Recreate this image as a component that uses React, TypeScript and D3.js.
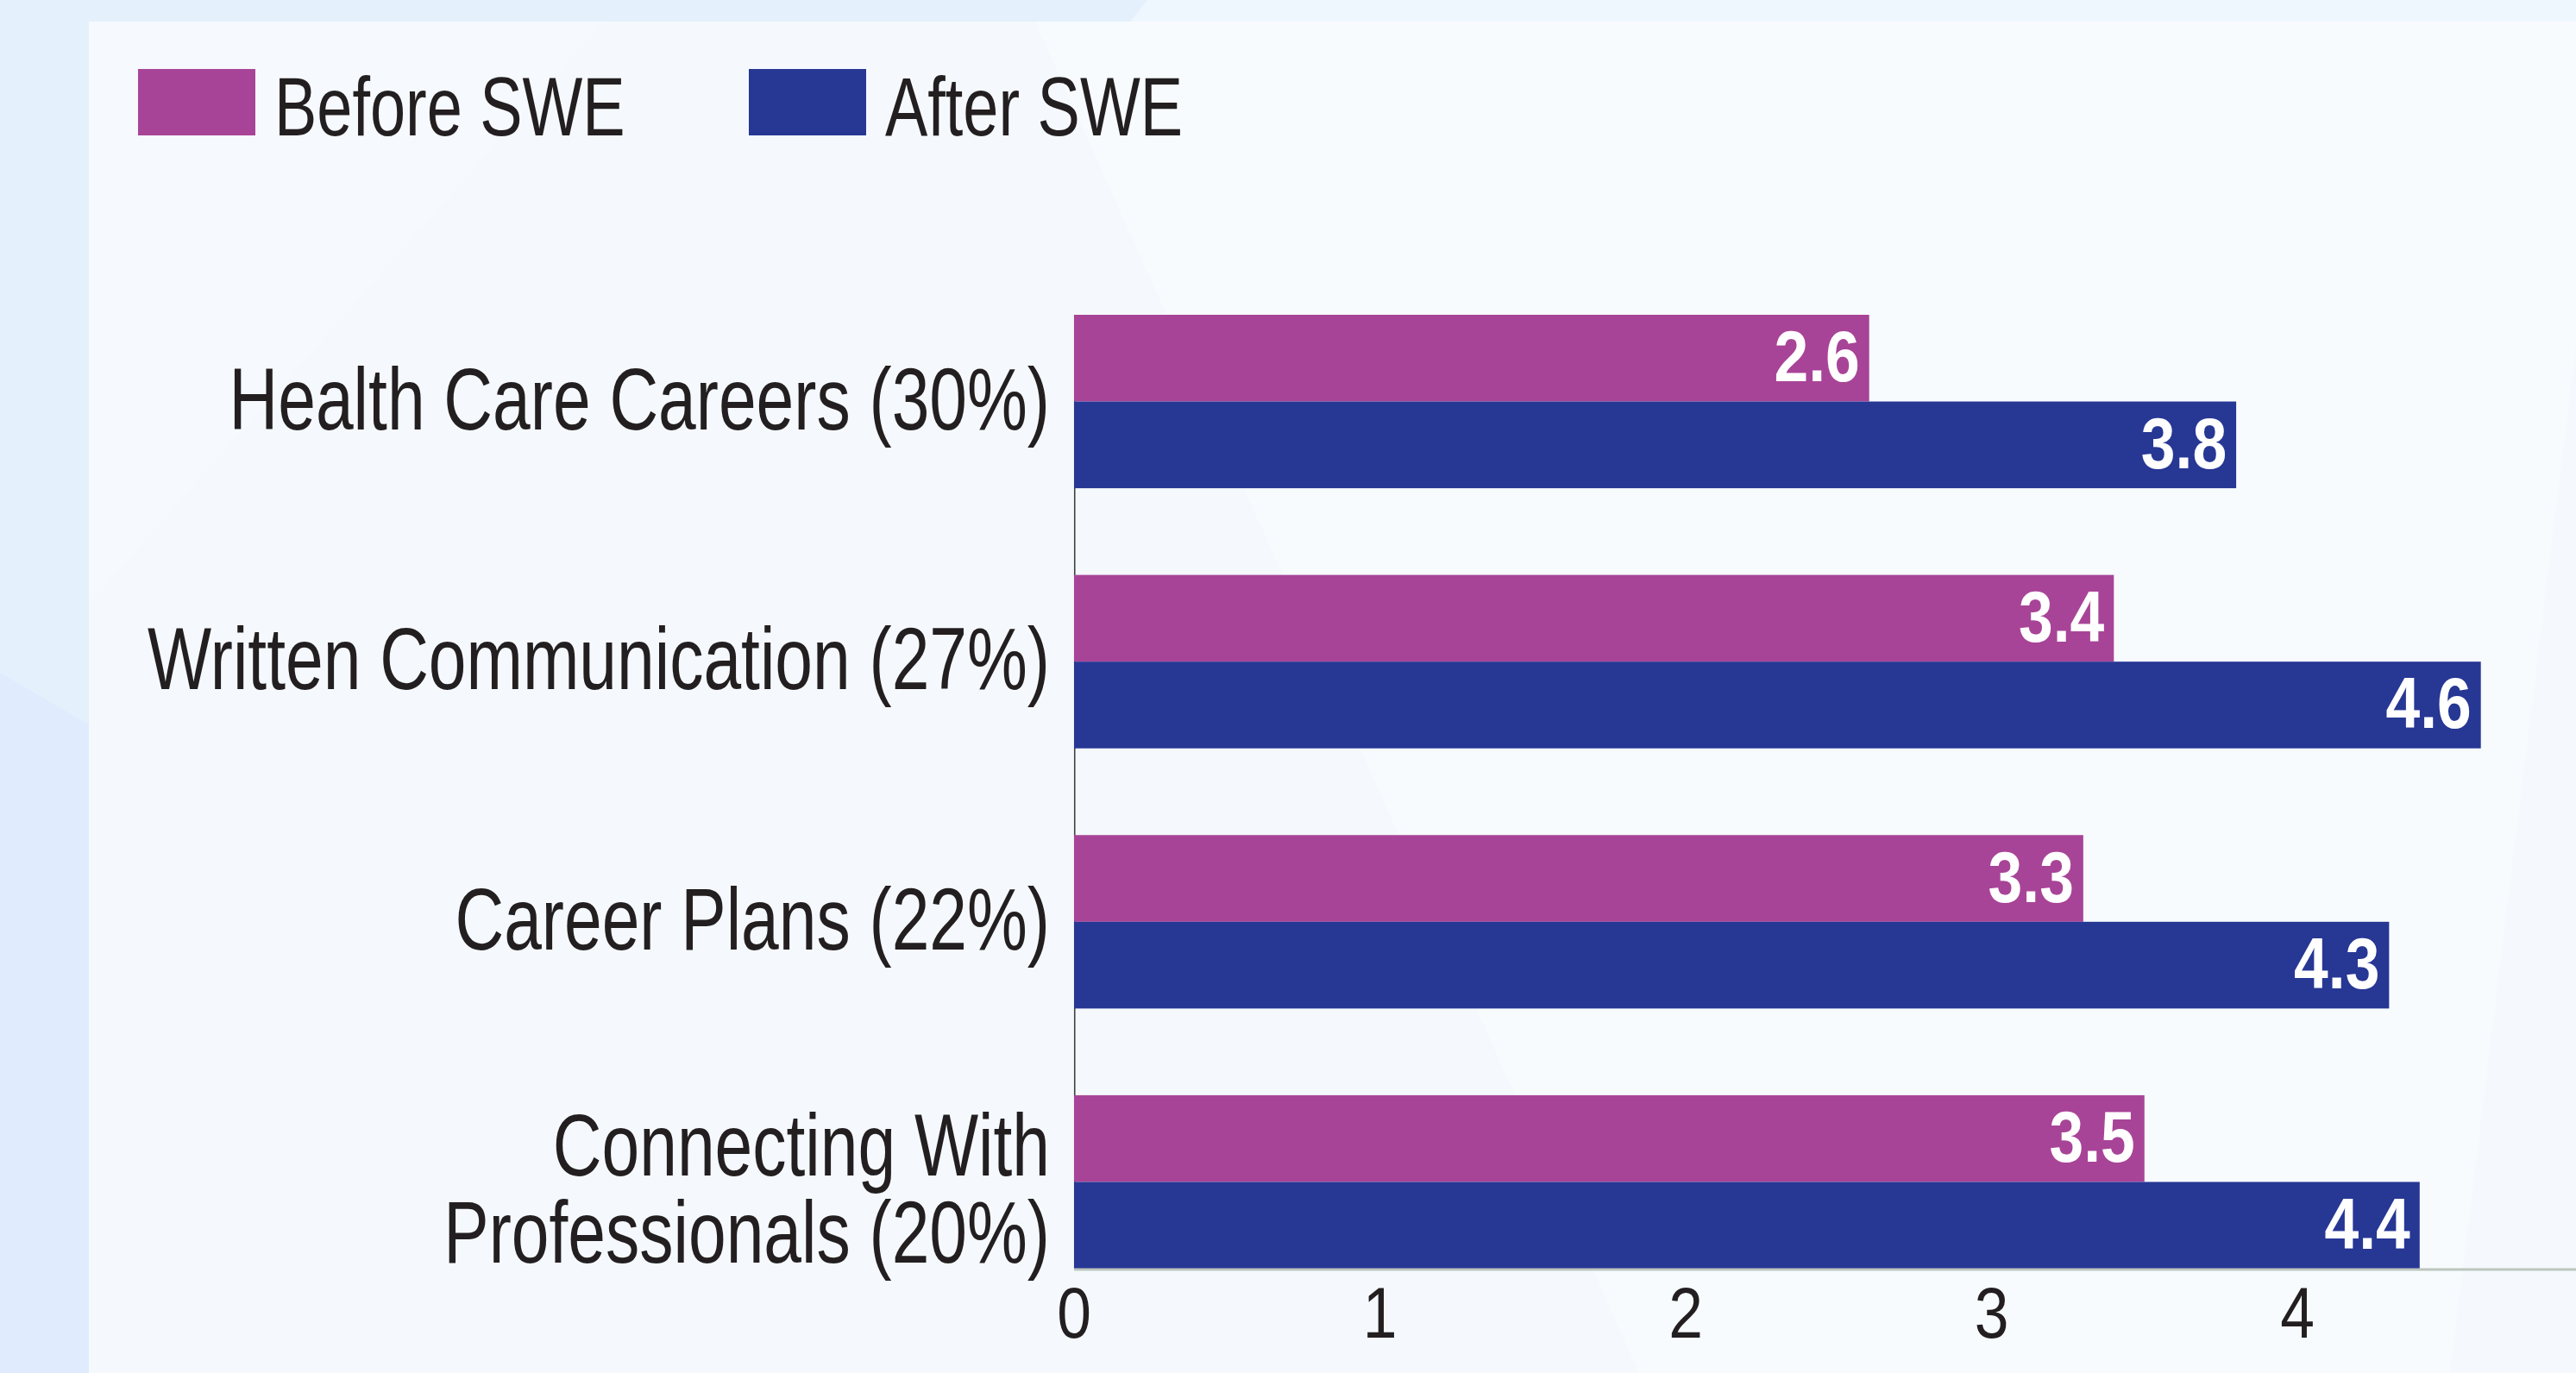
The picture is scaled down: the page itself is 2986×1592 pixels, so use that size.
import React from "react";
import * as d3 from "d3";

const categories = [
  "Health Care Careers (30%)",
  "Written Communication (27%)",
  "Career Plans (22%)",
  "Connecting With Professionals (20%)",
];
const categoryLines = [
  ["Health Care Careers (30%)"],
  ["Written Communication (27%)"],
  ["Career Plans (22%)"],
  ["Connecting With", "Professionals (20%)"],
];
const beforeValues = [2.6, 3.4, 3.3, 3.5];
const afterValues = [3.8, 4.6, 4.3, 4.4];
const tickValues = [0, 1, 2, 3, 4];
const seriesNames = ["Before SWE", "After SWE"];
const seriesColors = ["#a84497", "#273794"];

const W = 2986;
const H = 1592;
const FONT = "'Liberation Sans', Arial, Helvetica, sans-serif";
const TEXT = "#231f20";
const SX = 0.77;
const PANEL_X = 103;
const PANEL_Y = 25;

export default function App() {
  const x = d3.scaleLinear().domain([0, 4]).range([1245, 2663]);
  const y = d3
    .scaleBand<string>()
    .domain(categories)
    .range([365, 1471])
    .paddingInner(1 / 3)
    .paddingOuter(0);
  const inner = d3
    .scaleBand<string>()
    .domain(seriesNames)
    .range([0, y.bandwidth()])
    .padding(0);

  const x0 = x(0);
  const axisBottom = 1471;

  return (
    <svg
      width={W}
      height={H}
      style={{ position: "fixed", left: 0, top: 0, display: "block" }}
      fontFamily={FONT}
    >
      {/* background */}
      <rect x={0} y={0} width={W} height={H} fill="#e4f0fc" />
      <polygon points={`1330,0 ${W},0 ${W},${PANEL_Y} 1310,${PANEL_Y}`} fill="#eef6fe" />
      <polygon points={`0,780 ${PANEL_X},840 ${PANEL_X},${H} 0,${H}`} fill="#e0ecfd" />
      <rect
        x={PANEL_X}
        y={PANEL_Y}
        width={W - PANEL_X}
        height={H - PANEL_Y}
        fill="#f5f9fd"
      />
      <polygon
        points={`1200,${PANEL_Y} ${W},${PANEL_Y} ${W},400 2840,${H} 1900,${H}`}
        fill="#f8fbfe"
        opacity={0.8}
      />
      <polygon
        points={`${PANEL_X},${PANEL_Y} 700,${PANEL_Y} ${PANEL_X},700`}
        fill="#f7fafe"
        opacity={0.7}
      />

      {/* legend */}
      {seriesNames.map((s, i) => (
        <g key={s} transform={`translate(${160 + i * 708},80)`}>
          <rect x={0} y={0} width={136} height={77} fill={seriesColors[i]} />
          <text
            transform={`translate(${158},77) scale(${SX},1)`}
            fontSize={96}
            fill={TEXT}
          >
            {s}
          </text>
        </g>
      ))}

      {/* vertical axis line */}
      <line
        x1={x0 + 0.75}
        x2={x0 + 0.75}
        y1={365}
        y2={axisBottom}
        stroke="#3d423d"
        strokeWidth={1.6}
      />

      {/* bars */}
      {categories.map((c, ci) => {
        const vals = [beforeValues[ci], afterValues[ci]];
        return (
          <g key={c}>
            {seriesNames.map((s, si) => {
              const by = (y(c) as number) + (inner(s) as number);
              const bh = inner.bandwidth();
              const xe = x(vals[si]);
              return (
                <g key={s}>
                  <rect
                    x={x0}
                    y={by}
                    width={xe - x0}
                    height={bh}
                    fill={seriesColors[si]}
                  />
                  <text
                    transform={`translate(${xe - 11},${by + bh / 2 + 27}) scale(0.85,1)`}
                    textAnchor="end"
                    fontSize={84}
                    fontWeight="bold"
                    fill="#ffffff"
                  >
                    {vals[si].toFixed(1)}
                  </text>
                </g>
              );
            })}
          </g>
        );
      })}

      {/* bottom axis line */}
      <line
        x1={x0}
        x2={W}
        y1={axisBottom + 1}
        y2={axisBottom + 1}
        stroke="#bcc6bd"
        strokeWidth={3}
      />

      {/* tick labels */}
      {tickValues.map((t) => (
        <text
          key={t}
          transform={`translate(${x(t)},${axisBottom + 80}) scale(0.85,1)`}
          textAnchor="middle"
          fontSize={84}
          fill={TEXT}
        >
          {t}
        </text>
      ))}

      {/* category labels */}
      {categories.map((c, ci) => {
        const lines = categoryLines[ci];
        const n = lines.length;
        const center = (y(c) as number) + y.bandwidth() / 2;
        const firstBase = center + 32 + (n > 1 ? 11 : 0) - ((n - 1) / 2) * 101;
        return (
          <text
            key={c}
            transform={`translate(${x0 - 28},${firstBase}) scale(${SX},1)`}
            textAnchor="end"
            fontSize={102}
            fill={TEXT}
          >
            {lines.map((ln, li) => (
              <tspan key={li} x={0} y={li * 101}>
                {ln}
              </tspan>
            ))}
          </text>
        );
      })}
    </svg>
  );
}
